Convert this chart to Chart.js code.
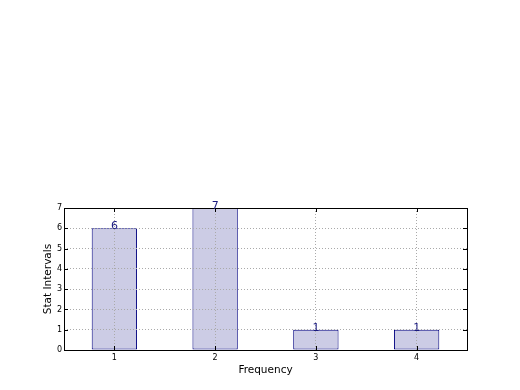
<!DOCTYPE html>
<html>
<head>
<meta charset="utf-8">
<script src="https://cdn.jsdelivr.net/npm/chart.js@4"></script>
<style>
  body { margin: 0; background: #fff; }
</style>
</head>
<body>
<canvas id="graphic" width="520" height="390"></canvas>
<script>
const categories = ["1", "2", "3", "4"]
const counts = [6, 7, 1, 1]
const yTicks = [0, 1, 2, 3, 4, 5, 6, 7]

const font = "DejaVu Sans"
const graphic = document.querySelector("#graphic")

// frame, inner tick marks and the numbers on the bars
const frame = {
  id: "frame",
  afterDraw(chart) {
    const ctx = chart.ctx
    const a = chart.chartArea
    const x = chart.scales.x
    const y = chart.scales.y
    ctx.save()
    ctx.strokeStyle = "#000"
    ctx.lineWidth = 1
    ctx.beginPath()
    x.ticks.forEach((t, i) => {
      const px = Math.round(x.getPixelForTick(i)) + 0.5
      ctx.moveTo(px, a.bottom); ctx.lineTo(px, a.bottom - 4)
      ctx.moveTo(px, a.top); ctx.lineTo(px, a.top + 4)
    })
    y.ticks.forEach((t) => {
      const py = Math.round(y.getPixelForValue(t.value)) + 0.5
      ctx.moveTo(a.left, py); ctx.lineTo(a.left + 4, py)
      ctx.moveTo(a.right, py); ctx.lineTo(a.right - 4, py)
    })
    ctx.stroke()
    ctx.strokeRect(Math.round(a.left) + 0.5, Math.round(a.top) + 0.5,
      Math.round(a.right - a.left), Math.round(a.bottom - a.top))

    ctx.fillStyle = "#1a1a80"
    ctx.font = "11px '" + font + "'"
    ctx.textAlign = "center"
    ctx.textBaseline = "alphabetic"
    chart.getDatasetMeta(0).data.forEach((bar, i) => {
      ctx.fillText(String(counts[i]), bar.x, bar.y + 1)
    })
    ctx.restore()
  }
}

new Chart(graphic, {
  type: "bar",
  data: {
    labels: categories,
    datasets: [
      {
        data: counts,
        backgroundColor: "rgb(204,204,229)",
        borderColor: "#000080",
        borderWidth: 1,
        borderSkipped: false,
        barPercentage: 0.45,
        categoryPercentage: 1,
      },
    ],
  },
  options: {
    responsive: false,
    animation: false,
    events: [],
    layout: { padding: { left: 40, right: 53, top: 208, bottom: 0 } },
    plugins: { legend: { display: false }, tooltip: { enabled: false } },
    scales: {
      x: {
        type: "category",
        offset: true,
        afterFit: (s) => { s.height = 40 },
        grid: { offset: false, color: "#aaa", lineWidth: 1, drawTicks: false, z: 1 },
        border: { display: false, dash: [1, 2] },
        ticks: { color: "#000", padding: 3, font: { family: font, size: 8 } },
        title: {
          display: true, text: "Frequency", color: "#000",
          font: { family: font, size: 10.5 }, padding: { top: 0, bottom: 13 },
        },
      },
      y: {
        min: 0,
        max: 7,
        afterFit: (s) => { s.width = 24 },
        afterBuildTicks: (s) => { s.ticks = yTicks.map((v) => ({ value: v })) },
        grid: { color: "#aaa", lineWidth: 1, drawTicks: false, z: 1 },
        border: { display: false, dash: [1, 2] },
        ticks: { color: "#000", padding: 2, font: { family: font, size: 8 } },
        title: {
          display: true, text: "Stat Intervals", color: "#000",
          font: { family: font, size: 10.5 }, padding: { top: 2, bottom: 0 },
        },
      },
    },
  },
  plugins: [frame],
})
</script>
</body>
</html>
